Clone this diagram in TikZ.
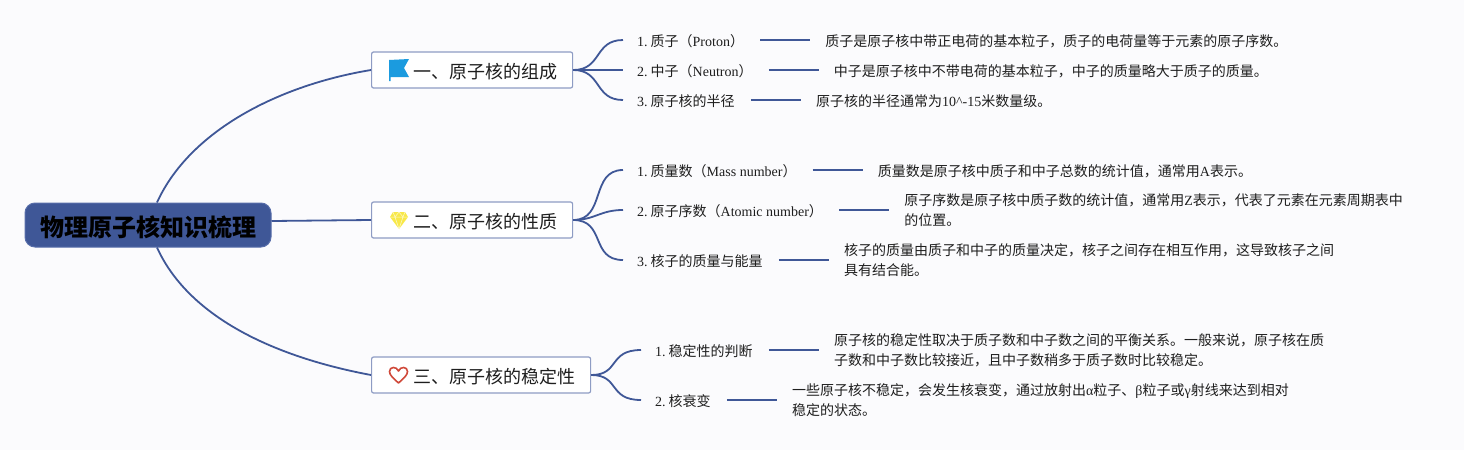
\documentclass[tikz,border=0pt]{standalone}
\usepackage{fontspec}
\setmainfont{Noto Sans CJK SC}
\newfontfamily\enfont{Liberation Serif}
\newcommand{\en}[1]{{\enfont #1}}
\usetikzlibrary{positioning,calc}

\begin{document}
\begin{tikzpicture}[x=1pt,y=-1pt]
    % Colori
    \definecolor{paper}{RGB}{251,251,253}
    \definecolor{linkblue}{RGB}{63,87,151}
    \definecolor{rootedge}{RGB}{88,110,170}
    \definecolor{boxedge}{RGB}{142,156,196}
    \definecolor{inkdark}{RGB}{30,30,30}
    \definecolor{flagblue}{RGB}{27,155,223}
    \definecolor{gemyellow}{RGB}{248,232,72}
    \definecolor{heartred}{RGB}{208,73,58}

    \tikzset{
        rootbox/.style={draw=rootedge, fill=linkblue, rounded corners=10pt, line width=1pt,
            inner xsep=15pt, inner ysep=0pt, minimum height=44pt, text=black,
            execute at begin node={\rule{0pt}{25pt}},
            font=\fontsize{24}{28}\selectfont\bfseries},
        branchbox/.style={draw=boxedge, fill=white, rounded corners=2pt, line width=1.2pt,
            inner xsep=15pt, inner ysep=0pt, minimum height=36pt, text=inkdark,
            execute at begin node={\rule{0pt}{17.8pt}},
            font=\fontsize{18}{22}\selectfont},
        subtext/.style={inner xsep=14pt, inner ysep=0pt, minimum height=20pt, text=inkdark,
            execute at begin node={\rule{0pt}{14.5pt}},
            execute at end node={\hspace*{2pt}},
            font=\fontsize{14}{20}\selectfont},
        desctext/.style={inner xsep=15pt, inner ysep=0pt, align=left, text=inkdark,
            execute at begin node={\rule{0pt}{14.5pt}},
            font=\fontsize{14}{20}\selectfont},
        link/.style={draw=linkblue, line width=1.8pt},
        rule/.style={draw=linkblue, line width=1.8pt}
    }

    % Sfondo
    \fill[paper] (0,0) rectangle (1464,450);
    \useasboundingbox (0,0) rectangle (1464,450);

    % Nodo centrale e rami
    \node[rootbox] (root) at (148,225) {物理原子核知识梳理};
    \node[branchbox, anchor=west] (comp) at (371,70) {\hspace*{27pt}一、原子核的组成};
    \node[branchbox, anchor=west] (prop) at (371,220) {\hspace*{27pt}二、原子核的性质};
    \node[branchbox, anchor=west] (stab) at (371,375) {\hspace*{27pt}三、原子核的稳定性};

    % Voci del primo ramo
    \node[subtext, anchor=west] (proton) at (623,40) {\en{1.}\hspace{3pt}质子（\en{Proton}）};
    \node[subtext, anchor=west] (neutron) at (623,70) {\en{2.}\hspace{3pt}中子（\en{Neutron}）};
    \node[subtext, anchor=west] (radius) at (623,100) {\en{3.}\hspace{3pt}原子核的半径};
    \node[desctext, right=50pt of proton] (protonD) {质子是原子核中带正电荷的基本粒子，质子的电荷量等于元素的原子序数。};
    \node[desctext, right=50pt of neutron] (neutronD) {中子是原子核中不带电荷的基本粒子，中子的质量略大于质子的质量。};
    \node[desctext, right=50pt of radius] (radiusD) {原子核的半径通常为\en{10\^{}-15}米数量级。};

    % Voci del secondo ramo
    \node[subtext, anchor=west] (mass) at (623,170) {\en{1.}\hspace{3pt}质量数（\en{Mass number}）};
    \node[subtext, anchor=west] (atomic) at (623,210) {\en{2.}\hspace{3pt}原子序数（\en{Atomic number}）};
    \node[subtext, anchor=west] (energy) at (623,260) {\en{3.}\hspace{3pt}核子的质量与能量};
    \node[desctext, right=50pt of mass] (massD) {质量数是原子核中质子和中子总数的统计值，通常用\en{A}表示。};
    \node[desctext, right=50pt of atomic] (atomicD) {原子序数是原子核中质子数的统计值，通常用\en{Z}表示，代表了元素在元素周期表中\\的位置。};
    \node[desctext, right=50pt of energy] (energyD) {核子的质量由质子和中子的质量决定，核子之间存在相互作用，这导致核子之间\\具有结合能。};

    % Voci del terzo ramo
    \node[subtext, anchor=west] (judge) at (641,350) {\en{1.}\hspace{3pt}稳定性的判断};
    \node[subtext, anchor=west] (decay) at (641,400) {\en{2.}\hspace{3pt}核衰变};
    \node[desctext, right=50pt of judge] (judgeD) {原子核的稳定性取决于质子数和中子数之间的平衡关系。一般来说，原子核在质\\子数和中子数比较接近，且中子数稍多于质子数时比较稳定。};
    \node[desctext, right=50pt of decay] (decayD) {一些原子核不稳定，会发生核衰变，通过放射出\en{α}粒子、\en{β}粒子或\en{γ}射线来达到相对\\稳定的状态。};

    % Collegamenti dal centro
    \draw[link] ([xshift=9pt]root.north) .. controls (190,130) and (280,85) .. (comp.west);
    \draw[link] ([yshift=4pt]root.east) -- (prop.west);
    \draw[link] ([xshift=9pt]root.south) .. controls (190,320) and (280,358) .. (stab.west);

    % Collegamenti dei rami
    \draw[link] (comp.east) .. controls (602,70) and (594,40) .. (proton.west);
    \draw[link] (comp.east) .. controls (590,70) and (600,70) .. (neutron.west);
    \draw[link] (comp.east) .. controls (602,70) and (594,100) .. (radius.west);
    \draw[link] (prop.east) .. controls (606,220) and (590,170) .. (mass.west);
    \draw[link] (prop.east) .. controls (595,220) and (600,210) .. (atomic.west);
    \draw[link] (prop.east) .. controls (606,220) and (590,260) .. (energy.west);
    \draw[link] (stab.east) .. controls (620,375) and (608,350) .. (judge.west);
    \draw[link] (stab.east) .. controls (620,375) and (608,400) .. (decay.west);

    % Tratti tra voce e descrizione
    \draw[rule] (proton) -- (protonD);
    \draw[rule] (neutron) -- (neutronD);
    \draw[rule] (radius) -- (radiusD);
    \draw[rule] (mass) -- (massD);
    \draw[rule] (atomic) -- (atomicD);
    \draw[rule] (energy) -- (energyD);
    \draw[rule] (judge) -- (judgeD);
    \draw[rule] (decay) -- (decayD);

    % Icone
    \fill[flagblue] (389,60) -- (409,59) -- (404,68) -- (409,77) -- (390.5,77) -- (390.5,81) -- (389,81) -- cycle;

    \fill[gemyellow] (393,212) -- (405,212) -- (408,217) -- (399,229) -- (390,217) -- cycle;
    \draw[white, line width=0.5pt, opacity=0.7] (390,217) -- (408,217) (395,217) -- (399,229) -- (403,217)
        (393,212) -- (395,217) -- (399,212) -- (403,217) -- (405,212);

    \draw[heartred, line width=1.6pt, line join=round] (398.5,383) .. controls (393,378) and (389.5,375) .. (389.5,371.5)
        .. controls (389.5,366.5) and (396.5,366) .. (398.5,371)
        .. controls (400.5,366) and (407.5,366.5) .. (407.5,371.5)
        .. controls (407.5,375) and (404,378) .. (398.5,383) -- cycle;
\end{tikzpicture}
\end{document}
